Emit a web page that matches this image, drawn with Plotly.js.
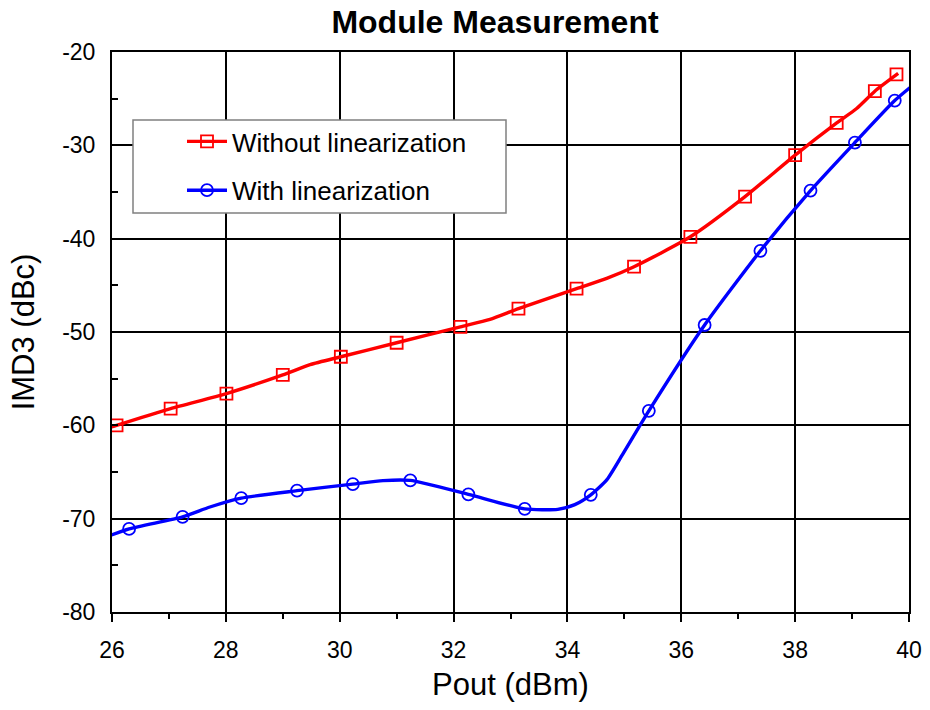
<!DOCTYPE html>
<html>
<head>
<meta charset="utf-8">
<script src="https://cdn.plot.ly/plotly-3.0.1.min.js"></script>
<style>html,body{margin:0;padding:0;background:#fff}#chart{width:930px;height:710px}</style>
</head>
<body>
<div id="chart"></div>
<script>
// Marker points (measured)
const redX = [26.08, 27.03, 28.01, 29.0, 30.02, 31.0, 32.12, 33.14, 34.16, 35.17, 36.16, 37.12, 38.0, 38.73, 39.40, 39.78];
const redY = [-60.0, -58.2, -56.6, -54.6, -52.65, -51.15, -49.45, -47.5, -45.35, -43.0, -39.8, -35.5, -31.05, -27.6, -24.2, -22.4];
const blueX = [26.30, 27.24, 28.27, 29.25, 30.23, 31.24, 32.26, 33.25, 34.41, 35.43, 36.41, 37.39, 38.27, 39.05, 39.75];
const blueY = [-71.1, -69.8, -67.8, -67.0, -66.3, -65.9, -67.4, -68.95, -67.45, -58.45, -49.25, -41.3, -34.85, -29.7, -25.2];

// Curve points (measured along the drawn lines)
const redLineX = [25.88, 26.08, 27.03, 28.01, 29.0, 29.48, 30.02, 31.0, 32.12, 32.64, 33.14, 34.16, 34.69, 35.17, 36.16, 37.12, 38.0, 38.73, 39.08, 39.40, 39.81];
const redLineY = [-60.4, -60.0, -58.2, -56.6, -54.6, -53.5, -52.65, -51.15, -49.45, -48.65, -47.5, -45.35, -44.25, -43.0, -39.8, -35.5, -31.05, -27.6, -26.05, -24.2, -22.3];
const blueLineX = [25.88, 26.30, 27.24, 27.72, 28.27, 29.25, 30.23, 30.76, 31.24, 32.26, 33.25, 33.83, 34.13, 34.41, 34.69, 34.98, 35.43, 36.41, 37.39, 38.27, 39.05, 39.75, 40.2];
const blueLineY = [-72.0, -71.1, -69.8, -68.75, -67.8, -67.0, -66.3, -65.92, -65.9, -67.4, -68.95, -69.0, -68.5, -67.45, -65.85, -63.0, -58.45, -49.25, -41.3, -34.85, -29.7, -25.2, -22.9];

const seriesNames = ["Without linearization", "With linearization"];
const xTicks = [26, 28, 30, 32, 34, 36, 38, 40];
const yTicks = [-80, -70, -60, -50, -40, -30, -20];

const RED = "#ff0000", BLUE = "#0000ff";
const FONT = "Liberation Sans, Arial, sans-serif";
const LW = 3.4;

const traces = [
  {x: redLineX, y: redLineY, mode: "lines", line: {color: RED, width: LW, shape: "spline", smoothing: 0.6}, showlegend: false, hoverinfo: "skip"},
  {x: redX, y: redY, mode: "markers", marker: {symbol: "square-open", size: 12, color: RED, line: {width: 1.8, color: RED}}, showlegend: false},
  {x: blueLineX, y: blueLineY, mode: "lines", line: {color: BLUE, width: LW, shape: "spline", smoothing: 0.6}, showlegend: false, hoverinfo: "skip"},
  {x: blueX, y: blueY, mode: "markers", marker: {symbol: "circle-open", size: 12, color: BLUE, line: {width: 1.8, color: BLUE}}, showlegend: false},
  {x: [null], y: [null], name: seriesNames[0], legendgroup: "a", mode: "lines+markers", line: {color: RED, width: LW}, marker: {symbol: "square-open", size: 12, color: RED, line: {width: 1.8, color: RED}}},
  {x: [null], y: [null], name: seriesNames[1], legendgroup: "b", mode: "lines+markers", line: {color: BLUE, width: LW}, marker: {symbol: "circle-open", size: 12, color: BLUE, line: {width: 1.8, color: BLUE}}}
];

// plot area in px: x 112..909, y 52..612
const px2x = p => (p - 112) / 797;
const px2y = p => 1 - (p - 52) / 560;

const layout = {
  width: 930, height: 710,
  margin: {l: 112, r: 21, t: 52, b: 98},
  paper_bgcolor: "#fff", plot_bgcolor: "#fff",
  font: {family: FONT, color: "#000", size: 23},
  title: {text: "<b>Module Measurement</b>", font: {family: FONT, size: 32, color: "#000"}, x: 495/930, xanchor: "center", xref: "container", y: 1 - 22/710, yanchor: "middle", yref: "container"},
  xaxis: {
    range: [26, 40], tickvals: xTicks, ticktext: xTicks.map(String),
    showgrid: true, gridcolor: "#000", gridwidth: 2,
    showline: true, linecolor: "#000", linewidth: 2, mirror: true,
    ticks: "outside", ticklen: 8, tickwidth: 2, tickcolor: "#000",
    minor: {dtick: 1, ticks: "outside", ticklen: 5, tickwidth: 2, tickcolor: "#000", showgrid: false},
    tickfont: {size: 23, family: FONT}, zeroline: false, ticklabelstandoff: 8,
    title: {text: "Pout (dBm)", font: {size: 31, family: FONT}, standoff: 12}
  },
  yaxis: {
    range: [-80, -20], tickvals: yTicks, ticktext: yTicks.map(String),
    showgrid: true, gridcolor: "#000", gridwidth: 2,
    showline: true, linecolor: "#000", linewidth: 2, mirror: true,
    ticks: "inside", ticklen: 6, tickwidth: 2, tickcolor: "#000",
    minor: {dtick: 5, ticks: "inside", ticklen: 6, tickwidth: 2, tickcolor: "#000", showgrid: false},
    tickfont: {size: 23, family: FONT}, zeroline: false, ticklabelstandoff: 10,
    title: {text: "IMD3 (dBc)", font: {size: 31, family: FONT}, standoff: 18}
  },
  shapes: [{
    type: "rect", xref: "paper", yref: "paper", layer: "above",
    x0: px2x(133), x1: px2x(506), y0: px2y(213), y1: px2y(120),
    fillcolor: "#fff", line: {color: "#808080", width: 1.5}
  }],
  legend: {
    x: px2x(140), y: px2y(118), xanchor: "left", yanchor: "top",
    bgcolor: "rgba(0,0,0,0)", borderwidth: 0,
    font: {size: 26, family: FONT, color: "#000"},
    indentation: 42, itemwidth: 40,
    tracegroupgap: 12
  },
  showlegend: true
};

Plotly.newPlot("chart", traces, layout, {displayModeBar: false, staticPlot: true});
</script>
</body>
</html>
